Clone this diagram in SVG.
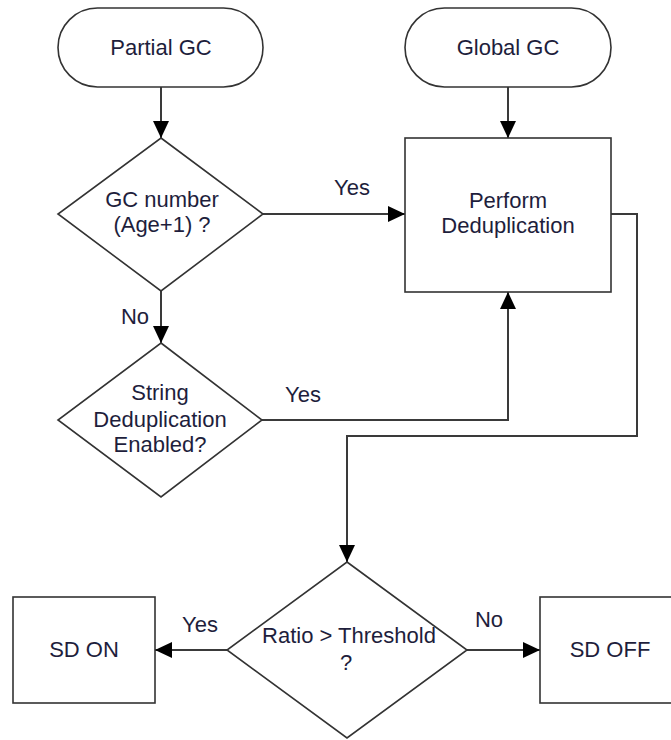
<svg xmlns="http://www.w3.org/2000/svg" width="671" height="740" viewBox="0 0 671 740">
  <style>
    .shape { fill: #ffffff; stroke: #333333; stroke-width: 1.6; }
    .conn { fill: none; stroke: #3a3a3a; stroke-width: 2; }
    text { font-family: "Liberation Sans", Arial, sans-serif; font-size: 22px; fill: #1e1e3c; text-anchor: middle; }
  </style>
  <defs>
    <marker id="arrow" viewBox="0 0 17 16" refX="17" refY="8" markerWidth="17" markerHeight="16" markerUnits="userSpaceOnUse" orient="auto">
      <path d="M0,0 L17,8 L0,16 Z" fill="#000000"/>
    </marker>
  </defs>
  <rect width="671" height="740" fill="#ffffff"/>

  <g id="connectors">
    <path class="conn" d="M161,87 V138" marker-end="url(#arrow)"/>
    <path class="conn" d="M508,87 V138" marker-end="url(#arrow)"/>
    <path class="conn" d="M263,214 H405" marker-end="url(#arrow)"/>
    <path class="conn" d="M161,291 V343" marker-end="url(#arrow)"/>
    <path class="conn" d="M262,420 H508 V292" marker-end="url(#arrow)"/>
    <path class="conn" d="M611,214 H637 V436 H347 V562" marker-end="url(#arrow)"/>
    <path class="conn" d="M227,650 H155" marker-end="url(#arrow)"/>
    <path class="conn" d="M467,650 H540" marker-end="url(#arrow)"/>
    <text x="352" y="195">Yes</text>
    <text x="135" y="324">No</text>
    <text x="303" y="402">Yes</text>
    <text x="200" y="632">Yes</text>
    <text x="489" y="627">No</text>
  </g>

  <g id="partial-gc">
    <rect class="shape" x="58" y="8" width="205" height="79" rx="39.5" ry="39.5"/>
    <text x="161" y="55">Partial GC</text>
  </g>

  <g id="global-gc">
    <rect class="shape" x="405" y="8" width="206" height="79" rx="39.5" ry="39.5"/>
    <text x="508" y="55">Global GC</text>
  </g>

  <g id="gc-number">
    <polygon class="shape" points="161,138 263,214 161,291 58,214"/>
    <text x="162" y="207">GC number</text>
    <text x="162" y="232">(Age+1) ?</text>
  </g>

  <g id="perform-dedup">
    <rect class="shape" x="405" y="138" width="206" height="154"/>
    <text x="508" y="208">Perform</text>
    <text x="508" y="233">Deduplication</text>
  </g>

  <g id="sd-enabled">
    <polygon class="shape" points="161,343 262,420 161,497 58,420"/>
    <text x="160" y="400">String</text>
    <text x="160" y="427">Deduplication</text>
    <text x="160" y="452">Enabled?</text>
  </g>

  <g id="ratio-check">
    <polygon class="shape" points="347,562 467,650 347,738 227,650"/>
    <text x="349" y="643">Ratio &gt; Threshold</text>
    <text x="346" y="670">?</text>
  </g>

  <g id="sd-on">
    <rect class="shape" x="13" y="597" width="142" height="106"/>
    <text x="84" y="657">SD ON</text>
  </g>

  <g id="sd-off">
    <rect class="shape" x="540" y="597" width="142" height="106"/>
    <text x="610" y="657">SD OFF</text>
  </g>
</svg>
